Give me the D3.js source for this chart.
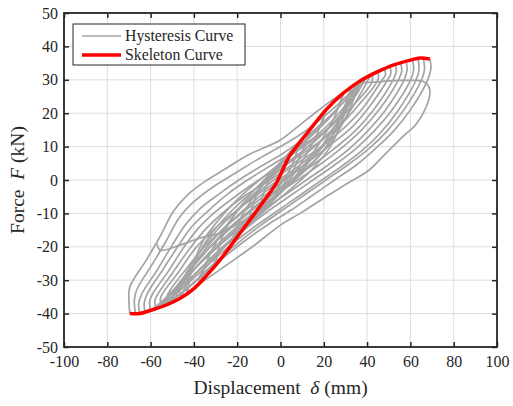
<!DOCTYPE html>
<html>
<head>
<meta charset="utf-8">
<script src="https://cdn.jsdelivr.net/npm/d3@7"></script>
<style>
  body { margin: 0; background: #fff; }
  svg { display: block; }
</style>
</head>
<body>
<div id="chart"></div>
<script>
// ticks
const xTicks = [-100, -80, -60, -40, -20, 0, 20, 40, 60, 80, 100];
const yTicks = [-50, -40, -30, -20, -10, 0, 10, 20, 30, 40, 50];

// skeleton curve [displacement mm, force kN]
const skeleton = [[-69.6,-40],[-65,-40],[-60,-39],[-53,-37.5],[-46.5,-35.5],[-40,-32.5],[-34,-28.5],[-28,-24],[-18.8,-16],[-9.6,-8],[-2,-1],[1,3],[4,7],[8,10.5],[13.5,15],[21,21],[29,26],[36.6,29.6],[44.5,32.3],[52,34.4],[60,35.9],[64.3,36.5],[69,36.2]];

// hysteresis branches
const up69 = [[-69.6,-40],[-70,-36],[-69.6,-32],[-62,-24],[-55.7,-17],[-49.6,-9.5],[-43,-4.5],[-35,-0.5],[-25,3.5],[-15,7.5],[0,12],[8,16],[16.8,20.5],[24,24],[32,27.5],[38,30.3],[44.5,32.3],[52,34.4],[60,35.9],[64.3,36.5],[69,36.2]];
const down69 = [[69,36.2],[69.5,33.5],[68,30],[60,21],[52,14.5],[44,9.5],[35,4.5],[25,0],[15,-4.5],[5,-9],[-5,-13],[-15,-17.5],[-25,-22.5],[-35,-28],[-45,-33.5],[-55,-37.5],[-63,-39.5],[-69.6,-40]];
const up67 = [[-67,-40],[-67.5,-36],[-66.5,-33],[-59.5,-25.5],[-53,-18.5],[-47,-11.5],[-40,-6.5],[-31,-2],[-21,2],[-11,6],[0,10],[10,14],[20,19],[28,23.5],[35,28],[40,31]];
const down66 = [[66,36.4],[66.5,33],[65,29.8],[57,21],[49,14.5],[41,9.5],[31,4.5],[21,0],[11,-4.5],[1,-9],[-9,-13.5],[-19,-18.5],[-29,-24],[-39,-30],[-49,-35.5],[-58,-39],[-67,-40]];
const up65 = [[-65,-40],[-65.5,-37],[-64,-34],[-57,-27],[-50,-19.5],[-44,-13.5],[-37,-8.5],[-28,-4],[-18,0.5],[-8,4.5],[0,7.5],[10,12],[20,17.5],[28,22.5],[34,27],[40,31],[46,33],[53,34.6],[58,35.5],[63.5,36.3]];
const down64 = [[63.5,36.3],[64,33],[62.5,29.8],[54,20.5],[46,14],[38,9],[28,4],[18,-0.5],[8,-5],[-2,-9.5],[-12,-14],[-22,-19],[-32,-24.5],[-42,-30.5],[-52,-36],[-60,-39],[-65,-40]];
const up62 = [[-62.5,-39.5],[-63,-37],[-61.5,-34],[-54.5,-27],[-47.5,-20],[-41,-14],[-33,-9],[-24,-4],[-14,0.5],[-4,4.5],[6,8.5],[16,13],[25,18.5],[32,24],[38,29.5],[42.5,31.8]];
const down61 = [[61,36],[61.5,33],[60,29.8],[51,20.5],[43,14.5],[35,9.5],[25,4.5],[15,0],[5,-4.5],[-5,-9],[-15,-14],[-25,-19.5],[-35,-25.5],[-45,-31.5],[-53,-36.5],[-62.5,-39.5]];
const up60 = [[-60,-39],[-60.5,-36.5],[-59,-34],[-52,-27.5],[-45,-20.5],[-38,-14.5],[-30,-9.5],[-20,-4.5],[-10,0],[0,4],[10,8.5],[20,14],[28,19.5],[35,25.5],[41,31.5],[48,33.2],[53,34.6],[58,35.5]];
const down58 = [[58,35.5],[58.5,33],[57,29.8],[48,20.5],[40,14.5],[32,9.5],[22,4.5],[12,0],[2,-4.5],[-8,-9],[-18,-14],[-28,-19.5],[-38,-25.5],[-48,-32],[-55,-36.5],[-60,-39]];
const up57 = [[-57.5,-38.5],[-58,-36],[-56.5,-34],[-49.5,-27.5],[-42.5,-21],[-35,-15],[-26,-9.5],[-16,-4.5],[-6,-0.5],[4,4],[14,9],[23,14.5],[30,20.5],[35,26.5],[38,30]];
const down56 = [[55.5,35],[56,32.5],[54.5,30],[45.5,21],[37.5,15],[29,10],[19,5],[9,0.5],[-1,-4],[-11,-9],[-21,-14.5],[-31,-20.5],[-41,-27.5],[-50,-34],[-57.5,-38.5]];
const up55 = [[-55,-38],[-55.5,-35.5],[-54,-33.5],[-47,-27.5],[-40,-21],[-32,-15.5],[-22,-10],[-12,-5],[-2,-0.5],[8,4],[18,9.5],[26,15],[33,21.5],[38,27],[42.5,31.8],[48,33.2],[53,34.6]];
const down53 = [[53,34.6],[53.5,32.5],[52,30],[43,21],[35,15],[26,10],[16,5],[6,0.5],[-4,-4],[-14,-9],[-24,-14.5],[-34,-21],[-44,-28.5],[-50,-33.5],[-55,-38]];
const up52 = [[-52,-37.5],[-52.5,-35],[-51,-33],[-44,-27],[-36.5,-21],[-28,-15.5],[-18,-10],[-8,-5],[2,0],[12,5],[21,11],[28,17.5],[32,24],[35,29]];
const down51 = [[50.5,34],[51,32],[49.5,30],[40.5,21.5],[32.5,15.5],[23,10.5],[13,5.5],[3,1],[-7,-3.5],[-17,-9],[-27,-15],[-37,-22.5],[-45,-30],[-52,-37.5]];
const up49 = [[-49,-36.5],[-49.5,-34],[-48,-32],[-41,-26.5],[-33,-20.5],[-24,-15],[-14,-9.5],[-4,-4.5],[6,0.5],[16,6],[24,12],[30,18.5],[34,24.5],[36.6,29.6],[42.5,31.8],[48,33.2]];
const down48 = [[48,33.2],[48.5,31.5],[47,30],[38,21.5],[30,16],[20,10.5],[10,6],[0,1.5],[-10,-3.5],[-20,-9],[-30,-15.5],[-40,-24],[-46,-31],[-49,-36.5]];
const up46 = [[-46,-35.5],[-46.5,-33],[-45,-31],[-38,-25.5],[-29,-20],[-20,-14.5],[-10,-9],[0,-3.5],[10,2],[19,8],[25,14.5],[29,21],[32,26]];
const down45 = [[45,32.5],[45,30],[35.5,22],[27,16],[17,11],[7,6.5],[-3,2],[-13,-3.5],[-23,-9.5],[-33,-17],[-40,-25],[-46,-35.5]];
const up43 = [[-43,-34],[-43.5,-31.5],[-42,-30],[-34,-24.5],[-25,-19],[-15,-13.5],[-5,-8],[5,-2.5],[15,3.5],[23,10],[28,17],[31,24],[33,28],[36.6,29.6],[42.5,31.8]];
const down43 = [[42.5,31.8],[42,29],[33,22],[24,16.5],[14,11.5],[4,7],[-6,2],[-16,-3.5],[-26,-10],[-36,-18.5],[-41,-27],[-43,-34]];
const loop37 = [[-37,-31],[-37.5,-29],[-30,-23],[-20,-16],[-10,-10],[0,-4],[10,3],[20,11],[28,19],[33,25.5],[36.6,29.6],[35,26],[27,19],[18,13],[8,7.5],[-2,2],[-12,-4],[-22,-11],[-30,-19],[-35,-26],[-37,-31]];
const loop30 = [[-30,-25.5],[-30.5,-23.5],[-22,-17.5],[-12,-11],[-2,-5],[8,2],[18,11],[25,19],[29,26],[27,22],[18,15.5],[8,9.5],[-2,3.5],[-12,-3],[-22,-11],[-28,-19],[-30,-25.5]];
const loop22 = [[-22,-19],[-22,-17],[-12,-11.5],[-2,-5],[8,3.5],[16,12.5],[21,21],[19,17],[10,11],[0,4.5],[-10,-3],[-18,-11],[-22,-19]];
const loop15 = [[-15,-13],[-6,-7],[4,1],[10,8.5],[13.5,15],[4,8],[-6,1],[-12,-6],[-15,-13]];
const loop9 = [[-9.6,-8],[-2,-3],[5,4],[8,10.5],[0,5],[-6,-1],[-9.6,-8]];
const lastCycle = [[32,27],[36,28.8],[45,29.4],[55,29.8],[63,29.8],[66,29.5],[68.5,28],[69,26.5],[68.5,24],[63,17],[56.5,13],[48,7.5],[41,3],[31,-1],[21,-5],[9,-10],[0,-13.5],[-13,-20],[-25,-25.5],[-37,-31],[-45,-35],[-55,-38]];
const notch = [[-57,-19],[-55.7,-21],[-46.5,-19.5],[-37.3,-17.4],[-28,-15.9],[-18,-12.5],[-8,-8]];

const hysteresis = [up69, down69, up67, down66, up65, down64, up62, down61, up60, down58, up57, down56,
  up55, down53, up52, down51, up49, down48, up46, down45, up43, down43,
  loop37, loop30, loop22, loop15, loop9, lastCycle, notch];

const W = 513, H = 406;
const plot = { left: 64, right: 497, top: 13, bottom: 347 };
const font = "'Liberation Serif', 'Times New Roman', serif";

const svg = d3.select("#chart").append("svg")
  .attr("width", W)
  .attr("height", H);

const x = d3.scaleLinear().domain([-100, 100]).range([plot.left, plot.right]);
const y = d3.scaleLinear().domain([-50, 50]).range([plot.bottom, plot.top]);

// grid
svg.append("g")
  .selectAll("line")
  .data(xTicks)
  .join("line")
  .attr("x1", d => x(d)).attr("x2", d => x(d))
  .attr("y1", plot.top).attr("y2", plot.bottom)
  .attr("stroke", "#dedede").attr("stroke-width", 1);
svg.append("g")
  .selectAll("line")
  .data(yTicks)
  .join("line")
  .attr("x1", plot.left).attr("x2", plot.right)
  .attr("y1", d => y(d)).attr("y2", d => y(d))
  .attr("stroke", "#dedede").attr("stroke-width", 1);

const smooth = d3.line().x(d => x(d[0])).y(d => y(d[1])).curve(d3.curveCatmullRom);

// hysteresis
svg.append("g")
  .selectAll("path")
  .data(hysteresis)
  .join("path")
  .attr("d", smooth)
  .attr("fill", "none")
  .attr("stroke", "#a4a4a4")
  .attr("stroke-width", 1.7)
  .attr("stroke-linejoin", "round");

// skeleton
svg.append("path")
  .datum(skeleton)
  .attr("d", smooth)
  .attr("fill", "none")
  .attr("stroke", "#ff0000")
  .attr("stroke-width", 3.5)
  .attr("stroke-linejoin", "round");

// axes (box with inward ticks)
const tickLen = 5;
const axisCol = "#262626";
svg.append("g")
  .attr("transform", `translate(0,${plot.bottom})`)
  .call(d3.axisBottom(x).tickValues(xTicks).tickFormat(d => String(d)).tickSizeInner(-tickLen).tickSizeOuter(0).tickPadding(9))
  .call(g => g.select(".domain").remove());
svg.append("g")
  .attr("transform", `translate(0,${plot.top})`)
  .call(d3.axisTop(x).tickValues(xTicks).tickSizeInner(-tickLen).tickSizeOuter(0).tickFormat(""))
  .call(g => g.select(".domain").remove());
svg.append("g")
  .attr("transform", `translate(${plot.left},0)`)
  .call(d3.axisLeft(y).tickValues(yTicks).tickFormat(d => String(d)).tickSizeInner(-tickLen).tickSizeOuter(0).tickPadding(6))
  .call(g => g.select(".domain").remove());
svg.append("g")
  .attr("transform", `translate(${plot.right},0)`)
  .call(d3.axisRight(y).tickValues(yTicks).tickSizeInner(-tickLen).tickSizeOuter(0).tickFormat(""))
  .call(g => g.select(".domain").remove());

svg.selectAll(".tick line").attr("stroke", axisCol).attr("stroke-width", 1.5);
svg.selectAll(".tick text")
  .attr("fill", axisCol)
  .style("font-family", font)
  .style("font-size", "16px");

svg.append("rect")
  .attr("x", plot.left).attr("y", plot.top)
  .attr("width", plot.right - plot.left).attr("height", plot.bottom - plot.top)
  .attr("fill", "none").attr("stroke", axisCol).attr("stroke-width", 1.8);

// axis labels
const xl = svg.append("text")
  .attr("x", (plot.left + plot.right) / 2)
  .attr("y", 394)
  .attr("text-anchor", "middle")
  .attr("fill", axisCol)
  .style("font-family", font)
  .style("font-size", "19.5px")
  .style("white-space", "pre");
xl.append("tspan").text("Displacement  ");
xl.append("tspan").style("font-style", "italic").text("δ");
xl.append("tspan").text(" (mm)");

const yl = svg.append("text")
  .attr("transform", `translate(24,${(plot.top + plot.bottom) / 2}) rotate(-90)`)
  .attr("text-anchor", "middle")
  .attr("fill", axisCol)
  .style("font-family", font)
  .style("font-size", "19.5px")
  .style("white-space", "pre");
yl.append("tspan").text("Force  ");
yl.append("tspan").style("font-style", "italic").text("F");
yl.append("tspan").text(" (kN)");

// legend
const legend = svg.append("g");
legend.append("rect")
  .attr("x", 73).attr("y", 24).attr("width", 172).attr("height", 41)
  .attr("fill", "#fff").attr("stroke", axisCol).attr("stroke-width", 1);
const items = [
  { name: "Hysteresis Curve", color: "#a4a4a4", width: 1.7 },
  { name: "Skeleton Curve", color: "#ff0000", width: 3.5 }
];
items.forEach((it, i) => {
  const yy = 36 + i * 19;
  legend.append("line")
    .attr("x1", 82).attr("x2", 121).attr("y1", yy).attr("y2", yy)
    .attr("stroke", it.color).attr("stroke-width", it.width);
  legend.append("text")
    .attr("x", 125).attr("y", yy + 5)
    .attr("fill", axisCol)
    .style("font-family", font)
    .style("font-size", "15.8px")
    .text(it.name);
});
</script>
</body>
</html>
